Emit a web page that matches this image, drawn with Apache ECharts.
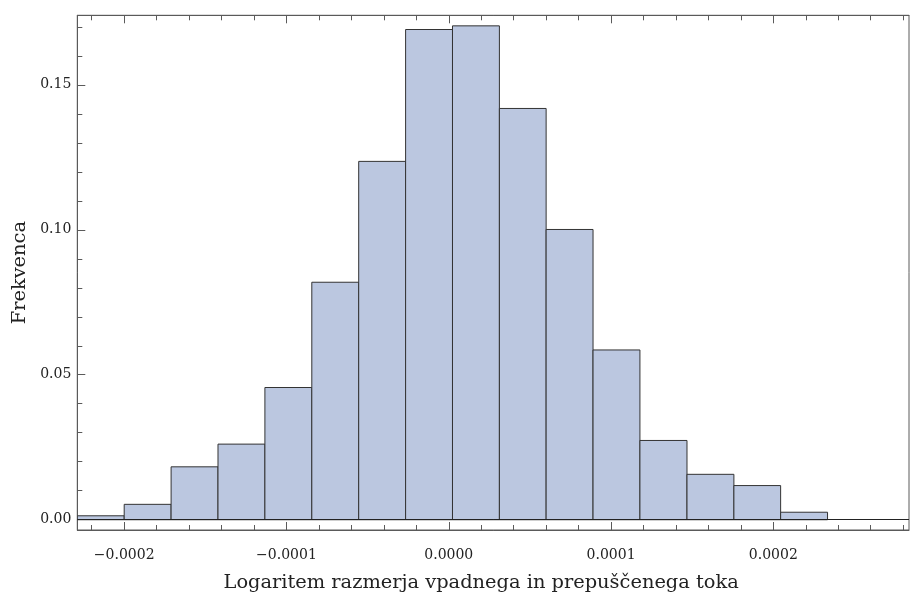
<!DOCTYPE html>
<html>
<head>
<meta charset="utf-8">
<script src="https://cdn.jsdelivr.net/npm/echarts@6/dist/echarts.min.js"></script>
<style>
html,body{margin:0;padding:0;background:#fff;}
#c{width:910px;height:597px;}
</style>
</head>
<body>
<div id="c"></div>
<script>
// Histogram bin edges (17 edges -> 16 bins)
const binEdges = [-0.0002289, -0.0002, -0.0001711, -0.0001422, -0.0001133, -0.0000844, -0.0000555, -0.0000266,
  0.0000023, 0.0000312, 0.0000600, 0.0000889, 0.0001178, 0.0001468, 0.0001757, 0.0002045, 0.0002334];
// Relative frequencies per bin
const frequencies = [0.00136, 0.00531, 0.01825, 0.02608, 0.0456, 0.0819, 0.12358, 0.16906,
  0.17032, 0.14183, 0.1001, 0.05855, 0.02734, 0.01566, 0.01178, 0.00259];

const xMajorTicks = [-0.0002, -0.0001, 0, 0.0001, 0.0002];
const xMinorTicks = [-0.00022, -0.00018, -0.00016, -0.00014, -0.00012, -0.00008, -0.00006, -0.00004, -0.00002,
  0.00002, 0.00004, 0.00006, 0.00008, 0.00012, 0.00014, 0.00016, 0.00018, 0.00022, 0.00024, 0.00026, 0.00028];
const yMajorTicks = [0, 0.05, 0.10, 0.15];
const yMinorTicks = [0.01, 0.02, 0.03, 0.04, 0.06, 0.07, 0.08, 0.09, 0.11, 0.12, 0.13, 0.14, 0.16, 0.17];

const X_MIN = -0.0002289, X_MAX = 0.0002836;
const Y_MIN = -0.00354, Y_MAX = 0.17396;

const xTitle = 'Logaritem razmerja vpadnega in prepuščenega toka';
const yTitle = 'Frekvenca';

const FONT = 'DejaVu Serif';
const FRAME = '#5a5a5a';

const histData = frequencies.map((f, i) => [binEdges[i], binEdges[i + 1], f]);

function fmtX(v) {
  if (Math.abs(v) < 1e-12) return '0.0000';
  return (v < 0 ? '\u2212' : '') + Math.abs(v).toFixed(4);
}

function xAxisDef(pos, major, showLabel) {
  const vals = major ? xMajorTicks : xMinorTicks;
  return {
    type: 'value', position: pos, min: X_MIN, max: X_MAX,
    axisLine: { show: major, onZero: false, lineStyle: { color: FRAME, width: 1 } },
    axisTick: { show: true, inside: true, length: major ? 8 : 5, customValues: vals, lineStyle: { color: FRAME, width: 1 } },
    axisLabel: showLabel ? { show: true, customValues: xMajorTicks, formatter: fmtX, color: '#222', fontFamily: FONT, fontSize: 14, margin: 18 } : { show: false },
    splitLine: { show: false },
    name: showLabel ? xTitle : '',
    nameLocation: 'middle', nameGap: 43,
    nameTextStyle: { fontFamily: FONT, fontSize: 19.4, color: '#222', padding: [0, 24, 0, 0] }
  };
}

function yAxisDef(major) {
  const vals = major ? yMajorTicks : yMinorTicks;
  return {
    type: 'value', position: 'left', min: Y_MIN, max: Y_MAX,
    axisLine: { show: major, onZero: false, lineStyle: { color: FRAME, width: 1 } },
    axisTick: { show: true, inside: true, length: major ? 8 : 5, customValues: vals, lineStyle: { color: FRAME, width: 1 } },
    axisLabel: major ? { show: true, customValues: yMajorTicks, formatter: v => v.toFixed(2), color: '#222', fontFamily: FONT, fontSize: 14, margin: 6 } : { show: false },
    splitLine: { show: false },
    name: major ? yTitle : '',
    nameLocation: 'middle', nameGap: 43, nameRotate: 90,
    nameTextStyle: { fontFamily: FONT, fontSize: 19.4, color: '#222' }
  };
}

const chart = echarts.init(document.getElementById('c'), null, { renderer: 'canvas' });
chart.setOption({
  animation: false,
  backgroundColor: '#fff',
  grid: { left: 77.3, right: 1, top: 15.3, bottom: 60.3, show: true, borderColor: FRAME, borderWidth: 1, backgroundColor: 'transparent' },
  xAxis: [xAxisDef('bottom', true, true), xAxisDef('bottom', false, false), xAxisDef('top', true, false), xAxisDef('top', false, false)],
  yAxis: [yAxisDef(true), yAxisDef(false)],
  series: [
    {
      type: 'custom',
      xAxisIndex: 0, yAxisIndex: 0,
      clip: true,
      data: histData,
      encode: { x: [0, 1], y: 2 },
      renderItem: function (params, api) {
        const p0 = api.coord([api.value(0), api.value(2)]);
        const p1 = api.coord([api.value(1), 0]);
        return {
          type: 'rect',
          shape: { x: p0[0], y: p0[1], width: p1[0] - p0[0], height: p1[1] - p0[1] },
          style: { fill: '#bbc7e0', stroke: '#333', lineWidth: 1 }
        };
      }
    },
    {
      type: 'line', xAxisIndex: 0, yAxisIndex: 0, data: [], silent: true,
      markLine: {
        silent: true, symbol: 'none', label: { show: false },
        lineStyle: { color: '#222', width: 1, type: 'solid' },
        data: [{ yAxis: 0 }]
      }
    }
  ]
});
</script>
</body>
</html>
